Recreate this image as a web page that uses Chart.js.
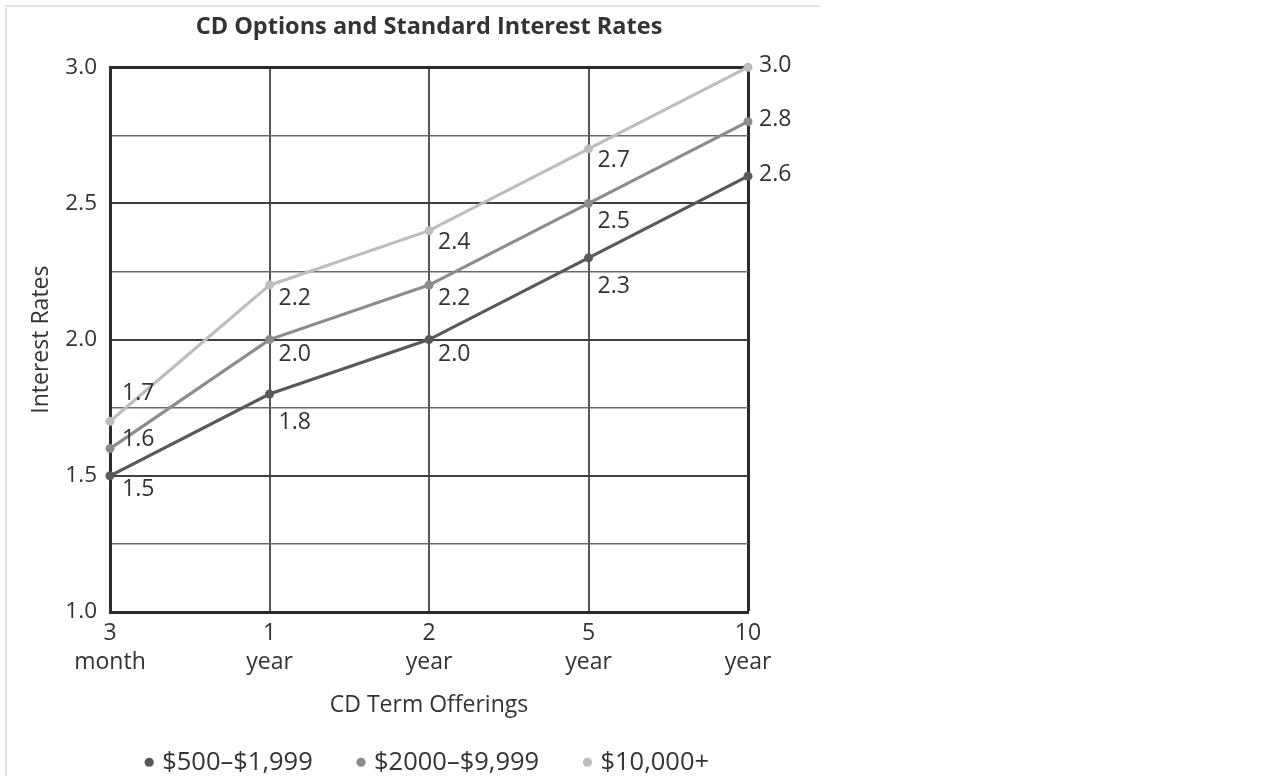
<!DOCTYPE html>
<html>
<head>
<meta charset="utf-8">
<title>CD Options and Standard Interest Rates</title>
<script src="https://cdn.jsdelivr.net/npm/chart.js@4/dist/chart.umd.min.js"></script>
<style>
  html, body { margin: 0; padding: 0; background: #ffffff; }
  body { width: 1263px; height: 776px; position: relative; overflow: hidden; }
  .frame {
    position: absolute; left: 5px; top: 5px; width: 813px; height: 800px;
    border-left: 2px solid #e4e4e4; border-top: 2px solid #e4e4e4;
  }
  .wrap { position: absolute; left: 0; top: 0; width: 858px; height: 776px; }
</style>
</head>
<body>
<div class="frame"></div>
<div class="wrap"><canvas id="chart" width="858" height="776"></canvas></div>
<script>
// CD term offerings (two-line tick labels)
const terms = [["3", "month"], ["1", "year"], ["2", "year"], ["5", "year"], ["10", "year"]];

// Deposit tiers
const tierNames = ["$500\u2013$1,999", "$2000\u2013$9,999", "$10,000+"];

// Standard interest rates (%) per tier
const rateSmall = [1.5, 1.8, 2.0, 2.3, 2.6];
const rateMid   = [1.6, 2.0, 2.2, 2.5, 2.8];
const rateLarge = [1.7, 2.2, 2.4, 2.7, 3.0];

// Labelled rate ticks on the value axis
const rateTicks = [1.0, 1.5, 2.0, 2.5, 3.0];

const FONT = "'Open Sans', 'Liberation Sans', sans-serif";
const TEXT = '#333333';
const tierColors = ['#595959', '#8c8c8c', '#bdbdbd'];

// Writes each point's value next to it
const valueLabels = {
  id: 'valueLabels',
  afterDatasetsDraw(chart, args, opts) {
    const ctx = chart.ctx;
    ctx.save();
    ctx.font = opts.font;
    ctx.fillStyle = opts.color;
    ctx.textAlign = 'left';
    ctx.textBaseline = 'middle';
    chart.data.datasets.forEach((ds, di) => {
      const meta = chart.getDatasetMeta(di);
      meta.data.forEach((pt, i) => {
        const last = i === meta.data.length - 1;
        const dx = last ? opts.endGap : (i === 0 ? opts.firstGap : opts.gap);
        const dy = last ? opts.endShift : opts.shift[di][i];
        ctx.fillText(ds.data[i].toFixed(1), pt.x + dx, pt.y + dy);
      });
    });
    ctx.restore();
  }
};

const isHalfStep = v => Math.abs(v * 2 - Math.round(v * 2)) < 1e-6;

const datasets = [rateSmall, rateMid, rateLarge].map((values, k) => ({
  label: tierNames[k],
  data: values,
  borderColor: tierColors[k],
  backgroundColor: tierColors[k],
  pointBackgroundColor: tierColors[k],
  pointBorderColor: tierColors[k],
  borderWidth: 3.2,
  pointRadius: 4.5,
  pointBorderWidth: 0,
  tension: 0,
  clip: false
}));

new Chart(document.getElementById('chart'), {
  type: 'line',
  data: { labels: terms, datasets },
  plugins: [valueLabels],
  options: {
    responsive: false,
    animation: false,
    events: [],
    layout: { padding: { left: 0, right: 0, top: 0, bottom: -9 } },
    plugins: {
      title: {
        display: true,
        text: 'CD Options and Standard Interest Rates',
        color: TEXT,
        font: { family: FONT, size: 23.5, weight: 'bold' },
        padding: { top: 13, bottom: 26 }
      },
      legend: {
        display: true,
        position: 'bottom',
        labels: {
          usePointStyle: true,
          pointStyle: 'circle',
          boxWidth: 0.5,
          boxHeight: 6.5,
          padding: 48,
          color: TEXT,
          font: { family: FONT, size: 25.5 }
        }
      },
      tooltip: { enabled: false },
      valueLabels: {
        font: "23px " + FONT,
        color: TEXT,
        gap: 9,
        firstGap: 12,
        endGap: 11,
        endShift: -2,
        shift: [
          [14, 28, 15, 29],
          [-9, 15, 13, 18],
          [-28, 13, 12, 12]
        ]
      }
    },
    scales: {
      x: {
        type: 'category',
        offset: false,
        afterFit(scale) { scale.height = 89.5; },
        border: { display: true, color: '#2b2b2b', width: 3 },
        grid: {
          offset: false,
          drawTicks: false,
          color: ctx => ctx.index === terms.length - 1 ? '#2b2b2b' : '#555555',
          lineWidth: ctx => ctx.index === terms.length - 1 ? 3 : 2
        },
        ticks: {
          color: TEXT,
          padding: 7,
          maxRotation: 0,
          autoSkip: false,
          font: { family: FONT, size: 23, lineHeight: 1.26 }
        },
        title: {
          display: true,
          text: 'CD Term Offerings',
          color: TEXT,
          font: { family: FONT, size: 23 },
          padding: { top: 0, bottom: -17.5 }
        }
      },
      y: {
        position: 'left',
        min: rateTicks[0],
        max: rateTicks[rateTicks.length - 1],
        afterFit(scale) { scale.width = 110; },
        border: { display: true, color: '#2b2b2b', width: 3 },
        grid: {
          drawTicks: false,
          color: ctx => {
            const v = ctx.tick.value;
            if (v >= rateTicks[rateTicks.length - 1] - 1e-6) return '#2b2b2b';
            return isHalfStep(v) ? '#3f3f3f' : '#6a6a6a';
          },
          lineWidth: ctx => {
            const v = ctx.tick.value;
            if (v >= rateTicks[rateTicks.length - 1] - 1e-6) return 3;
            return isHalfStep(v) ? 2 : 1.5;
          }
        },
        ticks: {
          stepSize: 0.25,
          autoSkip: false,
          padding: 13,
          color: TEXT,
          font: { family: FONT, size: 22.5 },
          callback: v => rateTicks.some(t => Math.abs(t - v) < 1e-6) ? Number(v).toFixed(1) : ''
        },
        title: {
          display: true,
          text: 'Interest Rates',
          color: TEXT,
          font: { family: FONT, size: 23 },
          padding: { top: 28, bottom: 0 }
        }
      },
      // reserves room on the right for the end-of-line values
      spacer: {
        position: 'right',
        type: 'linear',
        display: true,
        afterFit(scale) { scale.width = 110; },
        border: { display: false },
        grid: { display: false, drawTicks: false },
        ticks: { display: false }
      }
    }
  }
});
</script>
</body>
</html>
